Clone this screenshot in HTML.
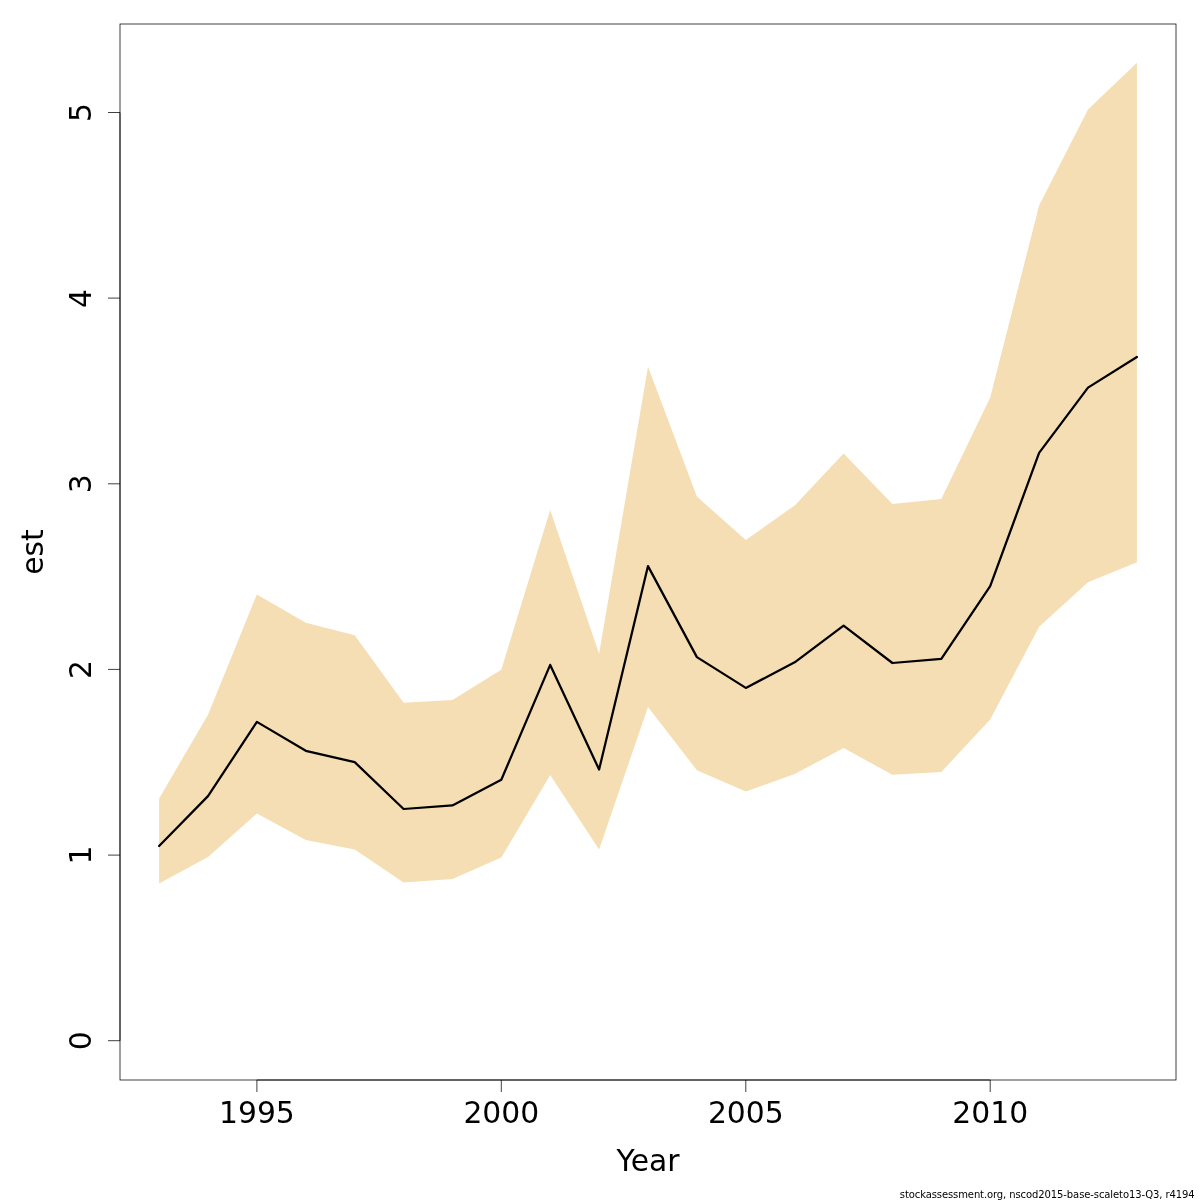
<!DOCTYPE html>
<html><head><meta charset="utf-8"><title>est by Year</title>
<style>
html,body{margin:0;padding:0;background:#fff;}
svg{display:block;}
text{font-family:"DejaVu Sans","Liberation Sans",sans-serif;fill:#000;}
.ax{font-size:29.8px;}
.ft{font-size:10px;}
</style></head><body>
<svg width="1200" height="1200" viewBox="0 0 1200 1200">
<rect width="1200" height="1200" fill="#fff"/>
<polygon points="159.1,883.4 208.0,857.0 256.9,813.4 305.8,840.0 354.7,849.4 403.6,882.4 452.4,879.1 501.3,857.6 550.2,775.1 599.1,849.5 648.0,706.9 696.9,770.2 745.8,791.5 794.7,774.0 843.6,748.1 892.4,774.7 941.3,771.9 990.2,719.6 1039.1,626.7 1088.0,582.2 1136.9,562.3 1136.9,62.7 1088.0,109.6 1039.1,205.6 990.2,397.4 941.3,499.1 892.4,504.0 843.6,453.5 794.7,505.4 745.8,540.1 696.9,496.6 648.0,366.7 599.1,653.8 550.2,509.9 501.3,669.7 452.4,699.9 403.6,702.7 354.7,635.2 305.8,622.7 256.9,594.4 208.0,714.8 159.1,798.4" fill="#F5DEB3"/>
<polyline points="159.1,846.0 208.0,796.1 256.9,721.9 305.8,750.8 354.7,762.1 403.6,809.0 452.4,805.4 501.3,779.8 550.2,664.9 599.1,769.5 648.0,566.1 696.9,657.1 745.8,687.9 794.7,662.3 843.6,625.7 892.4,663.0 941.3,658.8 990.2,586.2 1039.1,452.8 1088.0,387.6 1136.9,357.0" fill="none" stroke="#000" stroke-width="2.25" stroke-linejoin="round" stroke-linecap="round"/>
<g stroke="#000" stroke-width="0.75" fill="none" stroke-linecap="butt">
<rect x="120" y="24" width="1056" height="1056"/>
<path d="M256.9,1092 V1080 H990.2 V1092" stroke-linejoin="round"/>
<line x1="501.3" y1="1080" x2="501.3" y2="1092"/>
<line x1="745.8" y1="1080" x2="745.8" y2="1092"/>
<path d="M108,1040.7 H120 V112.5 H108" stroke-linejoin="round"/>
<line x1="108" y1="855.1" x2="120" y2="855.1"/>
<line x1="108" y1="669.4" x2="120" y2="669.4"/>
<line x1="108" y1="483.8" x2="120" y2="483.8"/>
<line x1="108" y1="298.1" x2="120" y2="298.1"/>
</g>
<text class="ax" x="256.9" y="1122.5" text-anchor="middle">1995</text>
<text class="ax" x="501.3" y="1122.5" text-anchor="middle">2000</text>
<text class="ax" x="745.8" y="1122.5" text-anchor="middle">2005</text>
<text class="ax" x="990.2" y="1122.5" text-anchor="middle">2010</text>
<text class="ax" transform="translate(91,1040.7) rotate(-90)" text-anchor="middle">0</text>
<text class="ax" transform="translate(91,855.1) rotate(-90)" text-anchor="middle">1</text>
<text class="ax" transform="translate(91,669.4) rotate(-90)" text-anchor="middle">2</text>
<text class="ax" transform="translate(91,483.8) rotate(-90)" text-anchor="middle">3</text>
<text class="ax" transform="translate(91,298.6) rotate(-90)" text-anchor="middle">4</text>
<text class="ax" transform="translate(91,112.5) rotate(-90)" text-anchor="middle">5</text>
<text class="ax" x="648" y="1170.5" text-anchor="middle">Year</text>
<text class="ax" transform="translate(43,552) rotate(-90)" text-anchor="middle">est</text>
<text class="ft" x="1194.7" y="1197.5" text-anchor="end" textLength="294.9" lengthAdjust="spacing">stockassessment.org, nscod2015-base-scaleto13-Q3, r4194</text>
</svg></body></html>
